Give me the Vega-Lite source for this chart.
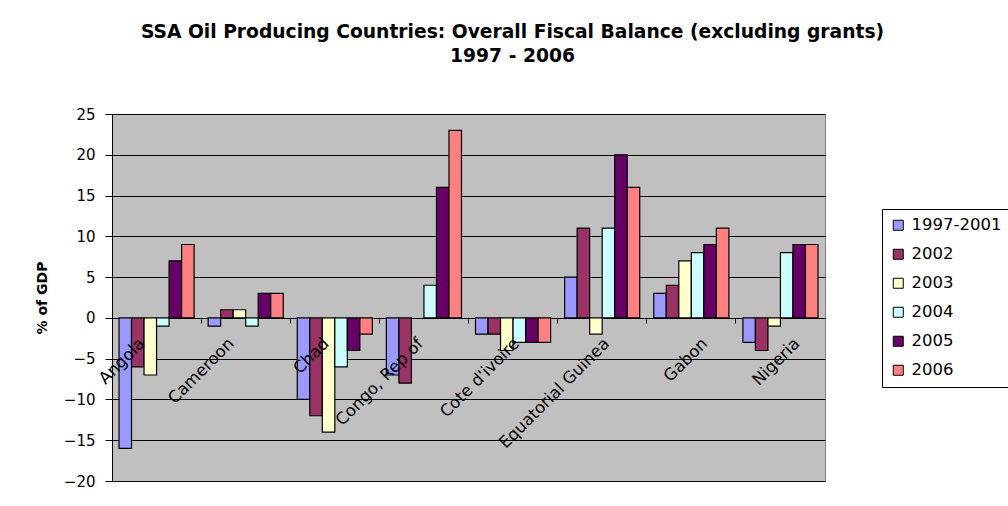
{
  "$schema": "https://vega.github.io/schema/vega-lite/v6.json",
  "autosize": "none",
  "width": 713,
  "height": 367,
  "padding": {"left": 112, "top": 114, "right": 183, "bottom": 25},
  "background": "#ffffff",
  "title": {
    "text": ["SSA Oil Producing Countries: Overall Fiscal Balance (excluding grants)", "1997 - 2006"],
    "font": "DejaVu Sans",
    "fontSize": 18.7,
    "fontWeight": "bold",
    "color": "#000000",
    "anchor": "middle",
    "frame": "group",
    "dx": 44,
    "offset": 41,
    "lineHeight": 24
  },
  "data": {
    "values": [
      {"country": "Angola", "period": "1997-2001", "value": -16},
      {"country": "Angola", "period": "2002", "value": -6},
      {"country": "Angola", "period": "2003", "value": -7},
      {"country": "Angola", "period": "2004", "value": -1},
      {"country": "Angola", "period": "2005", "value": 7},
      {"country": "Angola", "period": "2006", "value": 9},
      {"country": "Cameroon", "period": "1997-2001", "value": -1},
      {"country": "Cameroon", "period": "2002", "value": 1},
      {"country": "Cameroon", "period": "2003", "value": 1},
      {"country": "Cameroon", "period": "2004", "value": -1},
      {"country": "Cameroon", "period": "2005", "value": 3},
      {"country": "Cameroon", "period": "2006", "value": 3},
      {"country": "Chad", "period": "1997-2001", "value": -10},
      {"country": "Chad", "period": "2002", "value": -12},
      {"country": "Chad", "period": "2003", "value": -14},
      {"country": "Chad", "period": "2004", "value": -6},
      {"country": "Chad", "period": "2005", "value": -4},
      {"country": "Chad", "period": "2006", "value": -2},
      {"country": "Congo, Rep of", "period": "1997-2001", "value": -7},
      {"country": "Congo, Rep of", "period": "2002", "value": -8},
      {"country": "Congo, Rep of", "period": "2004", "value": 4},
      {"country": "Congo, Rep of", "period": "2005", "value": 16},
      {"country": "Congo, Rep of", "period": "2006", "value": 23},
      {"country": "Cote d'ivoire", "period": "1997-2001", "value": -2},
      {"country": "Cote d'ivoire", "period": "2002", "value": -2},
      {"country": "Cote d'ivoire", "period": "2003", "value": -4},
      {"country": "Cote d'ivoire", "period": "2004", "value": -3},
      {"country": "Cote d'ivoire", "period": "2005", "value": -3},
      {"country": "Cote d'ivoire", "period": "2006", "value": -3},
      {"country": "Equatorial Guinea", "period": "1997-2001", "value": 5},
      {"country": "Equatorial Guinea", "period": "2002", "value": 11},
      {"country": "Equatorial Guinea", "period": "2003", "value": -2},
      {"country": "Equatorial Guinea", "period": "2004", "value": 11},
      {"country": "Equatorial Guinea", "period": "2005", "value": 20},
      {"country": "Equatorial Guinea", "period": "2006", "value": 16},
      {"country": "Gabon", "period": "1997-2001", "value": 3},
      {"country": "Gabon", "period": "2002", "value": 4},
      {"country": "Gabon", "period": "2003", "value": 7},
      {"country": "Gabon", "period": "2004", "value": 8},
      {"country": "Gabon", "period": "2005", "value": 9},
      {"country": "Gabon", "period": "2006", "value": 11},
      {"country": "Nigeria", "period": "1997-2001", "value": -3},
      {"country": "Nigeria", "period": "2002", "value": -4},
      {"country": "Nigeria", "period": "2003", "value": -1},
      {"country": "Nigeria", "period": "2004", "value": 8},
      {"country": "Nigeria", "period": "2005", "value": 9},
      {"country": "Nigeria", "period": "2006", "value": 9}
    ]
  },
  "mark": {"type": "bar", "stroke": "#000000", "strokeWidth": 1.2, "opacity": 1},
  "encoding": {
    "x": {
      "field": "country",
      "type": "nominal",
      "sort": null,
      "scale": {"paddingInner": 0, "paddingOuter": 0},
      "axis": {
        "title": null,
        "offset": -163,
        "zindex": 1,
        "domain": false,
        "ticks": true,
        "tickColor": "#000000",
        "tickSize": 5,
        "bandPosition": 0,
        "labelAngle": -45,
        "labelFont": "DejaVu Sans",
        "labelFontSize": 16.5,
        "labelColor": "#000000",
        "labelPadding": 12,
        "labelOffset": {
          "condition": [
            {"test": "datum.value === 'Chad'", "value": -14},
            {"test": "datum.value === 'Congo, Rep of'", "value": -9},
            {"test": "datum.value === \"Cote d'ivoire\"", "value": -2},
            {"test": "datum.value === 'Equatorial Guinea'", "value": -1},
            {"test": "datum.value === 'Gabon'", "value": 8},
            {"test": "datum.value === 'Nigeria'", "value": 11}
          ],
          "value": -20
        },
        "grid": false
      }
    },
    "xOffset": {
      "field": "period",
      "type": "nominal",
      "scale": {"paddingInner": 0, "paddingOuter": 0.56}
    },
    "y": {
      "field": "value",
      "type": "quantitative",
      "scale": {"domain": [-20, 25], "nice": false, "zero": false},
      "axis": {
        "title": "% of GDP",
        "titleFont": "DejaVu Sans",
        "titleFontSize": 14,
        "titleFontWeight": "bold",
        "titleColor": "#000000",
        "titlePadding": 14,
        "values": [-20, -15, -10, -5, 0, 5, 10, 15, 20, 25],
        "labelFont": "DejaVu Sans",
        "labelFontSize": 15,
        "labelColor": "#000000",
        "labelPadding": 10,
        "tickSize": 7,
        "tickColor": "#000000",
        "domainColor": "#000000",
        "gridColor": "#000000",
        "gridWidth": 1,
        "gridOpacity": 1
      }
    },
    "color": {
      "field": "period",
      "type": "nominal",
      "scale": {
        "domain": ["1997-2001", "2002", "2003", "2004", "2005", "2006"],
        "range": ["#9999FF", "#993366", "#FFFFCC", "#CCFFFF", "#660066", "#FF8080"]
      },
      "legend": {
        "title": null,
        "orient": "none",
        "legendX": 770,
        "legendY": 95,
        "strokeColor": "#000000",
        "padding": 8,
        "symbolType": "square",
        "symbolSize": 100,
        "symbolStrokeColor": "#000000",
        "symbolStrokeWidth": 1,
        "symbolOpacity": 1,
        "labelFont": "DejaVu Sans",
        "labelFontSize": 16.5,
        "labelColor": "#000000",
        "rowPadding": 12,
        "labelOffset": 5
      }
    }
  },
  "config": {
    "view": {"fill": "#C0C0C0", "stroke": "#808080"},
    "axis": {"labelOverlap": false}
  }
}
